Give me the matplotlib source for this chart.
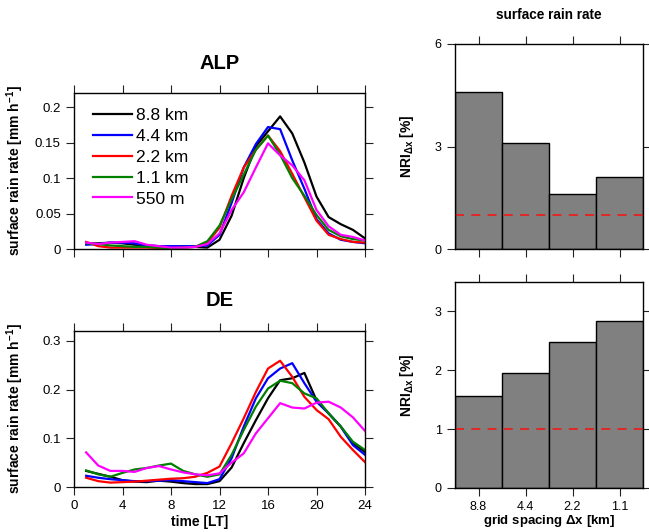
import matplotlib
matplotlib.use("Agg")
import numpy as np
from matplotlib import pyplot as plt

plt.rcParams['font.family'] = ['Liberation Sans', 'DejaVu Sans']
plt.rcParams['mathtext.fontset'] = 'custom'
plt.rcParams['mathtext.rm'] = 'Liberation Sans'
plt.rcParams['mathtext.bf'] = 'Liberation Sans:bold'
plt.rcParams['mathtext.it'] = 'Liberation Sans:italic'

hours = list(range(1, 25))
labels = ["8.8 km", "4.4 km", "2.2 km", "1.1 km", "550 m"]
colors = ["black", "blue", "red", "green", "magenta"]

# ALP surface rain rate [mm/h]
alp_88 = [0.008, 0.008, 0.009, 0.008, 0.006, 0.005, 0.004, 0.003, 0.003, 0.003, 0.002, 0.013,
          0.047, 0.100, 0.145, 0.166, 0.187, 0.163, 0.122, 0.074, 0.045, 0.035, 0.027, 0.015]
alp_44 = [0.006, 0.007, 0.009, 0.009, 0.008, 0.005, 0.004, 0.004, 0.004, 0.004, 0.005, 0.020,
          0.065, 0.115, 0.148, 0.172, 0.169, 0.125, 0.085, 0.042, 0.022, 0.013, 0.010, 0.008]
alp_22 = [0.010, 0.004, 0.002, 0.002, 0.002, 0.002, 0.0015, 0.0012, 0.002, 0.003, 0.009, 0.030,
          0.075, 0.115, 0.140, 0.160, 0.138, 0.106, 0.073, 0.040, 0.020, 0.014, 0.010, 0.009]
alp_11 = [0.008, 0.007, 0.005, 0.004, 0.003, 0.003, 0.002, 0.001, 0.002, 0.003, 0.011, 0.033,
          0.070, 0.105, 0.140, 0.160, 0.133, 0.100, 0.075, 0.048, 0.027, 0.018, 0.014, 0.012]
alp_055 = [0.009, 0.007, 0.009, 0.010, 0.011, 0.006, 0.004, 0.002, 0.002, 0.003, 0.007, 0.022,
           0.055, 0.080, 0.115, 0.149, 0.132, 0.118, 0.097, 0.055, 0.032, 0.020, 0.017, 0.012]

# DE surface rain rate [mm/h]
de_88 = [0.033, 0.027, 0.021, 0.014, 0.011, 0.010, 0.013, 0.011, 0.008, 0.006, 0.006, 0.012,
         0.040, 0.090, 0.137, 0.182, 0.219, 0.223, 0.234, 0.178, 0.151, 0.124, 0.090, 0.072]
de_44 = [0.023, 0.019, 0.016, 0.014, 0.012, 0.012, 0.013, 0.014, 0.012, 0.010, 0.008, 0.016,
         0.059, 0.124, 0.182, 0.223, 0.243, 0.254, 0.213, 0.175, 0.151, 0.124, 0.086, 0.066]
de_22 = [0.019, 0.012, 0.009, 0.010, 0.011, 0.013, 0.015, 0.017, 0.018, 0.021, 0.029, 0.042,
         0.090, 0.141, 0.195, 0.243, 0.259, 0.226, 0.185, 0.158, 0.139, 0.103, 0.076, 0.051]
de_11 = [0.034, 0.026, 0.021, 0.029, 0.036, 0.039, 0.044, 0.048, 0.033, 0.026, 0.021, 0.026,
         0.066, 0.117, 0.165, 0.202, 0.218, 0.213, 0.192, 0.182, 0.151, 0.124, 0.093, 0.076]
de_055 = [0.071, 0.044, 0.033, 0.033, 0.031, 0.039, 0.043, 0.036, 0.030, 0.026, 0.024, 0.028,
          0.050, 0.069, 0.110, 0.141, 0.172, 0.163, 0.161, 0.173, 0.175, 0.163, 0.143, 0.115]

# NRI bars
grid = ["8.8", "4.4", "2.2", "1.1"]
nri_alp = [4.6, 3.09, 1.61, 2.10]
nri_de = [1.56, 1.95, 2.48, 2.83]
nri_ref = 1.0

fig = plt.figure(figsize=(6.49, 5.32), dpi=100)

W, H = 649.0, 532.0
def px_axes(x0, y0, x1, y1):
    return fig.add_axes([x0 / W, (H - y1) / H, (x1 - x0) / W, (y1 - y0) / H])

ax1 = px_axes(74, 93, 365, 249)
ax2 = px_axes(74, 331, 365, 487)
ax3 = px_axes(455, 44, 643, 249)
ax4 = px_axes(455, 282, 643, 488)

def style(ax, fs):
    ax.tick_params(direction='out', length=6, width=0.8, top=True, right=True,
                   labelsize=fs, colors='#222222', labelcolor='black')
    for s in ax.spines.values():
        s.set_linewidth(1.0)

ylab = r"surface rain rate [mm h$^{\mathbf{-1}}$]"

for ax, series, title, ymax, yt, ytl in [
        (ax1, [alp_88, alp_44, alp_22, alp_11, alp_055], "ALP", 0.22,
         [0, 0.05, 0.1, 0.15, 0.2], ["0", "0.05", "0.1", "0.15", "0.2"]),
        (ax2, [de_88, de_44, de_22, de_11, de_055], "DE", 0.32,
         [0, 0.1, 0.2, 0.3], ["0", "0.1", "0.2", "0.3"])]:
    for vals, lab, c in zip(series, labels, colors):
        ax.plot(hours, vals, color=c, lw=1.6, label=lab)
    ax.set_xlim(0, 24)
    ax.set_ylim(0, ymax)
    ax.set_xticks([0, 4, 8, 12, 16, 20, 24])
    ax.set_yticks(yt)
    ax.set_yticklabels(ytl)
    style(ax, 9.5)
    ax.set_ylabel(ylab, fontsize=10, fontweight='bold')
    ax.yaxis.set_label_coords(-0.165, 0.5)
    ax.text(0.5, 1 + 30 / 156, title, transform=ax.transAxes, ha='center',
            va='center', fontsize=14.5, fontweight='bold')

ax1.tick_params(labelbottom=False)
ax1.legend(loc='upper left', bbox_to_anchor=(0.065, 0.905), frameon=False,
           fontsize=12.5, handlelength=2.25, handletextpad=0.25,
           labelspacing=0.33, borderpad=0, borderaxespad=0)
ax2.set_xlabel("time [LT]", fontsize=10, fontweight='bold')
ax2.xaxis.set_label_coords(0.43, -0.18)

nri_lab = r"NRI$_{\mathbf{\Delta x}}$ [%]"
pos = np.arange(len(grid))
for ax, vals, ymax, yt in [(ax3, nri_alp, 6, [0, 3, 6]), (ax4, nri_de, 3.5, [0, 1, 2, 3])]:
    ax.bar(pos, vals, width=1.0, color='#808080', edgecolor='black', linewidth=1.0)
    ax.axhline(nri_ref, color='#e8201e', lw=1.3, dashes=(5, 4))
    ax.set_xlim(-0.5, 3.5)
    ax.set_ylim(0, ymax)
    ax.set_xticks(pos)
    ax.set_xticklabels(grid)
    ax.set_yticks(yt)
    style(ax, 9)
    ax.set_ylabel(nri_lab, fontsize=10, fontweight='bold')
    ax.yaxis.set_label_coords(-0.21, 0.5)

ax3.tick_params(labelbottom=False)
ax3.text(0.5, 1 + 29 / 205, "surface rain rate", transform=ax3.transAxes,
         ha='center', va='center', fontsize=9.8, fontweight='bold')
ax4.set_xlabel(r"grid spacing $\mathbf{\Delta}$x [km]", fontsize=9.5, fontweight='bold')
ax4.xaxis.set_label_coords(0.5, -0.12)

fig.savefig("out.png", dpi=100)
